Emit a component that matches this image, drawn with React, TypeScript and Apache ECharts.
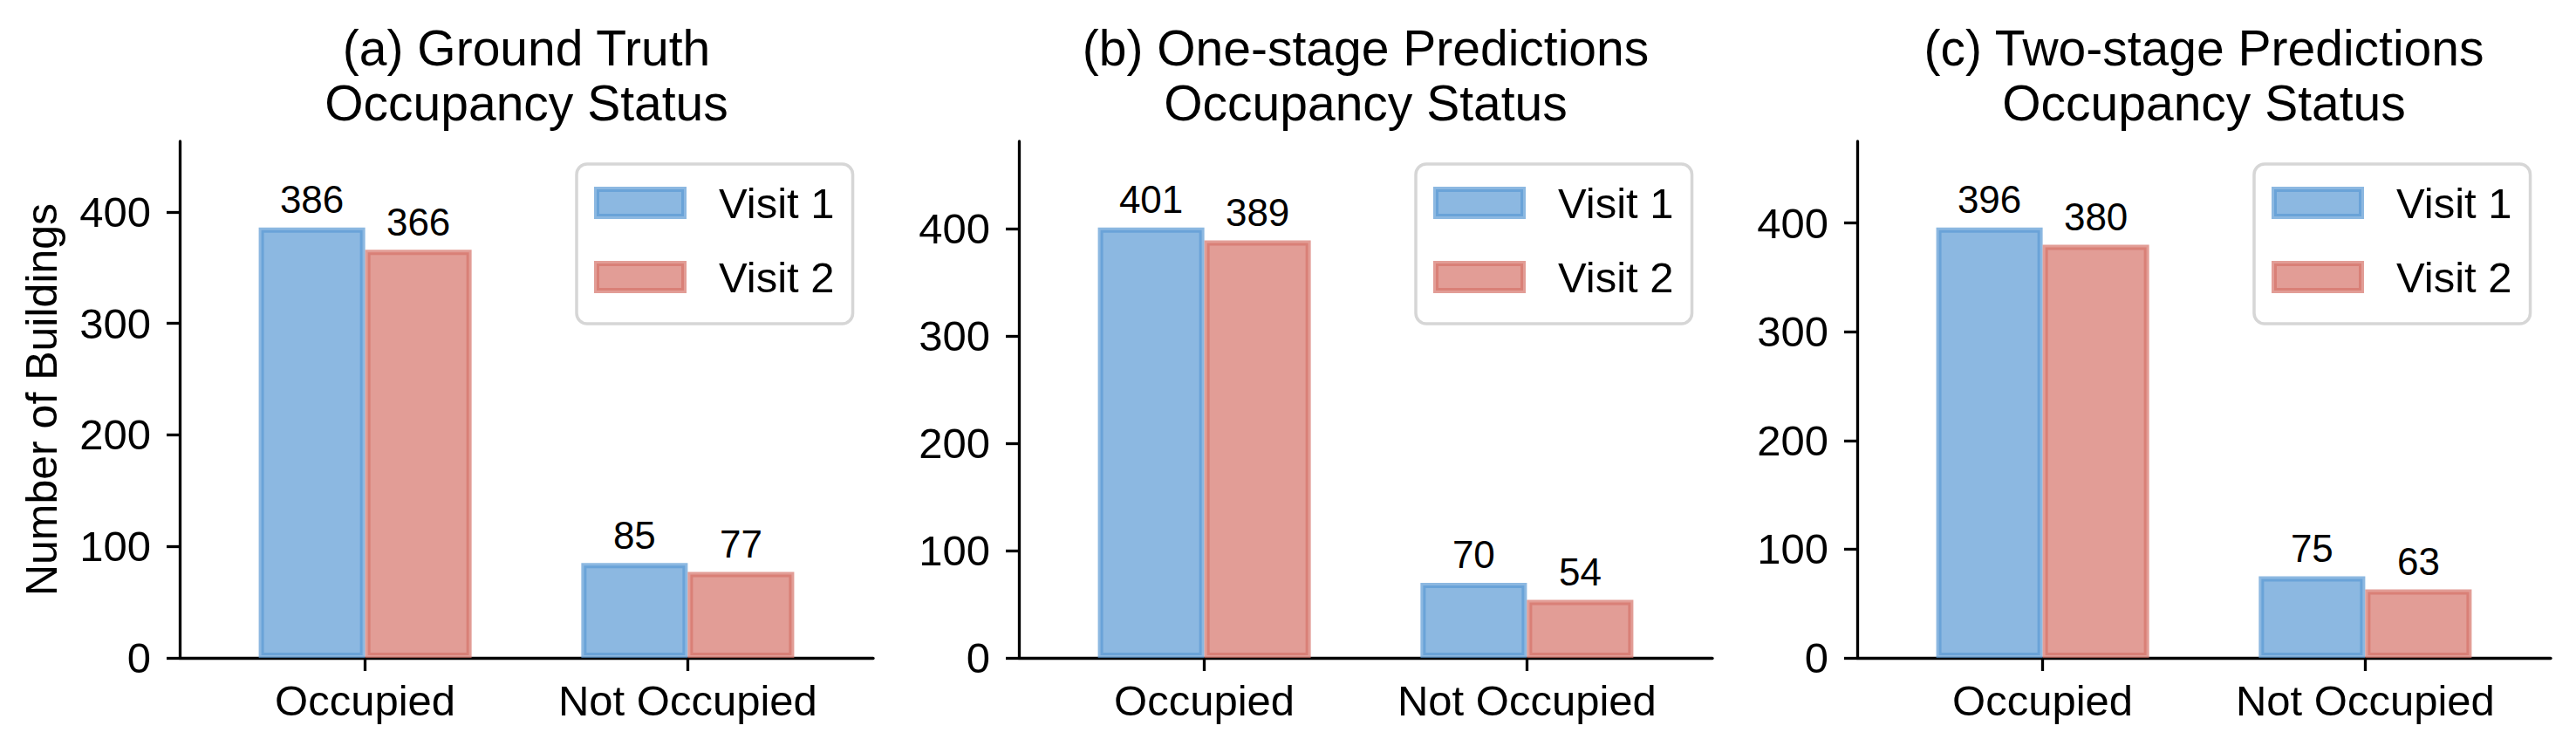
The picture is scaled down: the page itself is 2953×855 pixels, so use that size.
import React, { useEffect, useRef } from 'react';
import * as echarts from 'echarts';

const categories = ['Occupied', 'Not Occupied'];
const seriesNames = ['Visit 1', 'Visit 2'];
const panelTitles = [
  '(a) Ground Truth\nOccupancy Status',
  '(b) One-stage Predictions\nOccupancy Status',
  '(c) Two-stage Predictions\nOccupancy Status',
];
const groundTruthVisit1 = [386, 85];
const groundTruthVisit2 = [366, 77];
const oneStageVisit1 = [401, 70];
const oneStageVisit2 = [389, 54];
const twoStageVisit1 = [396, 75];
const twoStageVisit2 = [380, 63];
const yTickValues = [0, 100, 200, 300, 400];
const yAxisLabel = 'Number of Buildings';

const panels = [
  [groundTruthVisit1, groundTruthVisit2],
  [oneStageVisit1, oneStageVisit2],
  [twoStageVisit1, twoStageVisit2],
];

const FONT = '"Liberation Sans", Arial, Helvetica, sans-serif';
const W = 2953;
const H = 855;
const gridLefts = [206, 1168, 2129];
const gridWidth = 795;
const gridTop = 162;
const gridHeight = 592;
const xMin = -0.575;
const xMax = 1.575;
const barWidthUnits = 0.33;
const pxPerUnit = gridWidth / (xMax - xMin);
const barWidthPx = barWidthUnits * pxPerUnit;

const fills = ['rgba(91,154,212,0.7)', 'rgba(214,116,105,0.7)'];

export default function App() {
  const ref = useRef<HTMLDivElement>(null);
  useEffect(() => {
    if (!ref.current) return;
    const chart = echarts.init(ref.current, null, { renderer: 'svg' });
    const grid: any[] = [];
    const xAxis: any[] = [];
    const yAxis: any[] = [];
    const series: any[] = [];
    const legend: any[] = [];
    const graphic: any[] = [];
    panels.forEach((vals, p) => {
      grid.push({ left: gridLefts[p], top: gridTop, width: gridWidth, height: gridHeight });
      xAxis.push({
        gridIndex: p,
        type: 'value',
        min: xMin,
        max: xMax,
        splitLine: { show: false },
        axisLine: { show: true, onZero: false, lineStyle: { color: '#000', width: 3.3 } },
        axisTick: { show: true, customValues: [0, 1], length: 15, lineStyle: { color: '#000', width: 3.3 } },
        axisLabel: {
          customValues: [0, 1],
          formatter: (v: number) => categories[Math.round(v)] ?? '',
          fontSize: 49,
          color: '#000',
          fontFamily: FONT,
          margin: 24,
        },
      });
      const maxVal = Math.max(...vals[0], ...vals[1]);
      yAxis.push({
        gridIndex: p,
        type: 'value',
        min: 0,
        max: maxVal * 1.2,
        splitLine: { show: false },
        axisLine: { show: true, onZero: false, lineStyle: { color: '#000', width: 3.3 } },
        axisTick: { show: true, customValues: yTickValues, length: 15, lineStyle: { color: '#000', width: 3.3 } },
        axisLabel: {
          customValues: yTickValues,
          fontSize: 49,
          color: '#000',
          fontFamily: FONT,
          margin: 33,
        },
        name: p === 0 ? yAxisLabel : '',
        nameLocation: 'middle',
        nameGap: 133,
        nameTextStyle: { fontSize: 50, color: '#000', fontFamily: FONT },
      });
      vals.forEach((arr, v) => {
        series.push({
          type: 'bar',
          name: seriesNames[v],
          xAxisIndex: p,
          yAxisIndex: p,
          data: arr.map((y, i) => [i, y]),
          barWidth: barWidthPx,
          barGap: '0%',
          itemStyle: { color: fills[v], borderColor: fills[v], borderWidth: 6 },
          label: {
            show: true,
            position: 'top',
            distance: 10,
            fontSize: 44,
            color: '#000',
            fontFamily: FONT,
            formatter: (pr: any) => String(pr.value[1]),
          },
        });
      });
      legend.push({
        left: gridLefts[p] + 455,
        top: 188,
        orient: 'vertical',
        data: seriesNames,
        icon: 'rect',
        itemWidth: 100,
        itemHeight: 31,
        itemGap: 36,
        padding: [20, 21, 29, 20],
        borderColor: '#d6d6d6',
        borderWidth: 3.5,
        borderRadius: 12,
        backgroundColor: '#fff',
        selectedMode: false,
        itemStyle: { borderWidth: 6 },
        textStyle: { fontSize: 49, color: '#000', fontFamily: FONT, lineHeight: 36, padding: [0, 0, 0, 35] },
      });
      graphic.push({
        type: 'text',
        x: gridLefts[p] + gridWidth / 2,
        y: 23.5,
        style: {
          text: panelTitles[p],
          fontSize: 57,
          fontFamily: FONT,
          fill: '#000',
          lineHeight: 63,
          align: 'center',
          verticalAlign: 'top',
          textAlign: 'center',
          textVerticalAlign: 'top',
        },
      });
    });
    chart.setOption({
      animation: false,
      backgroundColor: '#fff',
      grid,
      xAxis,
      yAxis,
      series,
      legend,
      graphic,
    });
    return () => chart.dispose();
  }, []);
  return <div ref={ref} style={{ position: 'absolute', left: 0, top: 0, width: W, height: H }} />;
}
